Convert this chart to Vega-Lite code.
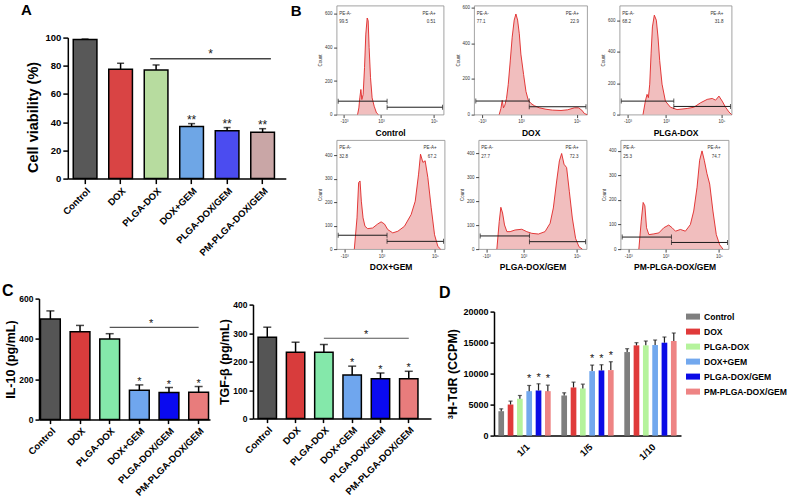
{
"$schema": "https://vega.github.io/schema/vega-lite/v6.json",
"background": "white",
"padding": {"left": 2, "top": 2.6, "right": 0, "bottom": 0},
"config": {
  "view": {"stroke": null},
  "font": "Liberation Sans",
  "axis": {"grid": false, "domainColor": "#000", "tickColor": "#000", "labelColor": "#000", "titleColor": "#000", "labelFont": "Liberation Sans", "titleFont": "Liberation Sans", "labelFontWeight": "bold", "titleFontWeight": "bold", "labelOverlap": false, "labelFlush": false, "labelBound": false},
  "title": {"font": "Liberation Sans", "fontWeight": "bold", "color": "#000"},
  "legend": {"labelFont": "Liberation Sans"},
  "text": {"font": "Liberation Sans"}
},
"datasets": {
  "A": [
    {"g": "Control", "v": 98.6, "e": 99, "s": ""},
    {"g": "DOX", "v": 77.5, "e": 81.8, "s": ""},
    {"g": "PLGA-DOX", "v": 77, "e": 80.6, "s": ""},
    {"g": "DOX+GEM", "v": 36.9, "e": 39, "s": "**"},
    {"g": "PLGA-DOX/GEM", "v": 34, "e": 36.2, "s": "**"},
    {"g": "PM-PLGA-DOX/GEM", "v": 32.8, "e": 35.4, "s": "**"}
  ],
  "C1": [
    {"g": "Control", "v": 499, "e": 539, "s": ""},
    {"g": "DOX", "v": 436, "e": 467, "s": ""},
    {"g": "PLGA-DOX", "v": 400, "e": 426, "s": ""},
    {"g": "DOX+GEM", "v": 146, "e": 172, "s": "*"},
    {"g": "PLGA-DOX/GEM", "v": 134, "e": 159, "s": "*"},
    {"g": "PM-PLGA-DOX/GEM", "v": 136, "e": 164, "s": "*"}
  ],
  "C2": [
    {"g": "Control", "v": 285.6, "e": 320.7, "s": ""},
    {"g": "DOX", "v": 233, "e": 268, "s": ""},
    {"g": "PLGA-DOX", "v": 233, "e": 260, "s": ""},
    {"g": "DOX+GEM", "v": 153, "e": 184, "s": "*"},
    {"g": "PLGA-DOX/GEM", "v": 140, "e": 160, "s": "*"},
    {"g": "PM-PLGA-DOX/GEM", "v": 140, "e": 166, "s": "*"}
  ],
  "D": [
    {"r": "1/1", "g": "Control", "v": 3935, "e": 4312, "s": ""},
    {"r": "1/1", "g": "DOX", "v": 5013, "e": 5552, "s": ""},
    {"r": "1/1", "g": "PLGA-DOX", "v": 5929, "e": 6468, "s": ""},
    {"r": "1/1", "g": "DOX+GEM", "v": 7169, "e": 8085, "s": "*"},
    {"r": "1/1", "g": "PLGA-DOX/GEM", "v": 7277, "e": 8355, "s": "*"},
    {"r": "1/1", "g": "PM-PLGA-DOX/GEM", "v": 7169, "e": 8139, "s": "*"},
    {"r": "1/5", "g": "Control", "v": 6468, "e": 6899, "s": ""},
    {"r": "1/5", "g": "DOX", "v": 7762, "e": 8624, "s": ""},
    {"r": "1/5", "g": "PLGA-DOX", "v": 7600, "e": 8301, "s": ""},
    {"r": "1/5", "g": "DOX+GEM", "v": 10403, "e": 11373, "s": "*"},
    {"r": "1/5", "g": "PLGA-DOX/GEM", "v": 10511, "e": 11427, "s": "*"},
    {"r": "1/5", "g": "PM-PLGA-DOX/GEM", "v": 10564, "e": 11912, "s": "*"},
    {"r": "1/10", "g": "Control", "v": 13475, "e": 14014, "s": ""},
    {"r": "1/10", "g": "DOX", "v": 14553, "e": 14984, "s": ""},
    {"r": "1/10", "g": "PLGA-DOX", "v": 14553, "e": 15254, "s": ""},
    {"r": "1/10", "g": "DOX+GEM", "v": 14607, "e": 15415, "s": ""},
    {"r": "1/10", "g": "PLGA-DOX/GEM", "v": 14984, "e": 15901, "s": ""},
    {"r": "1/10", "g": "PM-PLGA-DOX/GEM", "v": 15254, "e": 16547, "s": ""}
  ],
  "flow": [
    {"s": "Control", "u": 19.6, "c": 0}, {"s": "Control", "u": 20.8, "c": 40}, {"s": "Control", "u": 21.7, "c": 100}, {"s": "Control", "u": 22.7, "c": 150}, {"s": "Control", "u": 23.6, "c": 90}, {"s": "Control", "u": 24.8, "c": 120}, {"s": "Control", "u": 26.1, "c": 280}, {"s": "Control", "u": 27.3, "c": 480}, {"s": "Control", "u": 28.6, "c": 576}, {"s": "Control", "u": 29.5, "c": 560}, {"s": "Control", "u": 30.4, "c": 400}, {"s": "Control", "u": 31.7, "c": 220}, {"s": "Control", "u": 33.2, "c": 100}, {"s": "Control", "u": 35.1, "c": 50}, {"s": "Control", "u": 37.3, "c": 10}, {"s": "Control", "u": 39.1, "c": 0},
    {"s": "DOX", "u": 22.2, "c": 0}, {"s": "DOX", "u": 23.7, "c": 34}, {"s": "DOX", "u": 24.9, "c": 80}, {"s": "DOX", "u": 26, "c": 38}, {"s": "DOX", "u": 27.2, "c": 53}, {"s": "DOX", "u": 28.7, "c": 91}, {"s": "DOX", "u": 30.2, "c": 168}, {"s": "DOX", "u": 32, "c": 301}, {"s": "DOX", "u": 33.7, "c": 434}, {"s": "DOX", "u": 35.5, "c": 530}, {"s": "DOX", "u": 37, "c": 564}, {"s": "DOX", "u": 38.5, "c": 530}, {"s": "DOX", "u": 40, "c": 453}, {"s": "DOX", "u": 41.4, "c": 339}, {"s": "DOX", "u": 43.8, "c": 225}, {"s": "DOX", "u": 45.9, "c": 130}, {"s": "DOX", "u": 47.9, "c": 82}, {"s": "DOX", "u": 50.3, "c": 63}, {"s": "DOX", "u": 53.3, "c": 50}, {"s": "DOX", "u": 57.7, "c": 38}, {"s": "DOX", "u": 63.6, "c": 30}, {"s": "DOX", "u": 69.5, "c": 25}, {"s": "DOX", "u": 76.9, "c": 23}, {"s": "DOX", "u": 82.8, "c": 27}, {"s": "DOX", "u": 88.8, "c": 38}, {"s": "DOX", "u": 92.3, "c": 38}, {"s": "DOX", "u": 95.3, "c": 25}, {"s": "DOX", "u": 97.6, "c": 6}, {"s": "DOX", "u": 100, "c": 0},
    {"s": "PLGA-DOX", "u": 20.9, "c": 0}, {"s": "PLGA-DOX", "u": 23, "c": 86}, {"s": "PLGA-DOX", "u": 24.5, "c": 129}, {"s": "PLGA-DOX", "u": 25.7, "c": 108}, {"s": "PLGA-DOX", "u": 26.9, "c": 194}, {"s": "PLGA-DOX", "u": 28.1, "c": 387}, {"s": "PLGA-DOX", "u": 29.3, "c": 559}, {"s": "PLGA-DOX", "u": 31, "c": 634}, {"s": "PLGA-DOX", "u": 32.8, "c": 602}, {"s": "PLGA-DOX", "u": 34.3, "c": 495}, {"s": "PLGA-DOX", "u": 35.8, "c": 344}, {"s": "PLGA-DOX", "u": 37.9, "c": 194}, {"s": "PLGA-DOX", "u": 40.9, "c": 86}, {"s": "PLGA-DOX", "u": 45.4, "c": 47}, {"s": "PLGA-DOX", "u": 51.3, "c": 32}, {"s": "PLGA-DOX", "u": 60.3, "c": 39}, {"s": "PLGA-DOX", "u": 66.3, "c": 47}, {"s": "PLGA-DOX", "u": 72.2, "c": 75}, {"s": "PLGA-DOX", "u": 78.2, "c": 97}, {"s": "PLGA-DOX", "u": 82.7, "c": 103}, {"s": "PLGA-DOX", "u": 85.7, "c": 92}, {"s": "PLGA-DOX", "u": 88.7, "c": 118}, {"s": "PLGA-DOX", "u": 91.6, "c": 86}, {"s": "PLGA-DOX", "u": 94.6, "c": 47}, {"s": "PLGA-DOX", "u": 97.6, "c": 17}, {"s": "PLGA-DOX", "u": 100, "c": 0},
    {"s": "DOX+GEM", "u": 16.4, "c": 0}, {"s": "DOX+GEM", "u": 18.9, "c": 133}, {"s": "DOX+GEM", "u": 20.4, "c": 283}, {"s": "DOX+GEM", "u": 21.7, "c": 290}, {"s": "DOX+GEM", "u": 22.9, "c": 204}, {"s": "DOX+GEM", "u": 24.5, "c": 133}, {"s": "DOX+GEM", "u": 26.3, "c": 97}, {"s": "DOX+GEM", "u": 28.8, "c": 87}, {"s": "DOX+GEM", "u": 33.4, "c": 90}, {"s": "DOX+GEM", "u": 38.1, "c": 107}, {"s": "DOX+GEM", "u": 41.2, "c": 116}, {"s": "DOX+GEM", "u": 44.3, "c": 107}, {"s": "DOX+GEM", "u": 47.4, "c": 83}, {"s": "DOX+GEM", "u": 52, "c": 69}, {"s": "DOX+GEM", "u": 56.7, "c": 76}, {"s": "DOX+GEM", "u": 62.8, "c": 97}, {"s": "DOX+GEM", "u": 69, "c": 147}, {"s": "DOX+GEM", "u": 72.8, "c": 204}, {"s": "DOX+GEM", "u": 75.9, "c": 319}, {"s": "DOX+GEM", "u": 77.7, "c": 404}, {"s": "DOX+GEM", "u": 79.9, "c": 369}, {"s": "DOX+GEM", "u": 82, "c": 376}, {"s": "DOX+GEM", "u": 84.5, "c": 304}, {"s": "DOX+GEM", "u": 87.6, "c": 176}, {"s": "DOX+GEM", "u": 90.7, "c": 61}, {"s": "DOX+GEM", "u": 93.8, "c": 11}, {"s": "DOX+GEM", "u": 96.3, "c": 0},
    {"s": "PLGA-DOX/GEM", "u": 16.9, "c": 0}, {"s": "PLGA-DOX/GEM", "u": 19.1, "c": 115}, {"s": "PLGA-DOX/GEM", "u": 20.6, "c": 175}, {"s": "PLGA-DOX/GEM", "u": 22.2, "c": 151}, {"s": "PLGA-DOX/GEM", "u": 24, "c": 101}, {"s": "PLGA-DOX/GEM", "u": 26.2, "c": 73}, {"s": "PLGA-DOX/GEM", "u": 29.2, "c": 73}, {"s": "PLGA-DOX/GEM", "u": 33.8, "c": 80}, {"s": "PLGA-DOX/GEM", "u": 40, "c": 83}, {"s": "PLGA-DOX/GEM", "u": 44.6, "c": 73}, {"s": "PLGA-DOX/GEM", "u": 49.2, "c": 66}, {"s": "PLGA-DOX/GEM", "u": 55.4, "c": 63}, {"s": "PLGA-DOX/GEM", "u": 61.5, "c": 73}, {"s": "PLGA-DOX/GEM", "u": 66.2, "c": 108}, {"s": "PLGA-DOX/GEM", "u": 69.2, "c": 172}, {"s": "PLGA-DOX/GEM", "u": 72.3, "c": 285}, {"s": "PLGA-DOX/GEM", "u": 74.8, "c": 369}, {"s": "PLGA-DOX/GEM", "u": 76.9, "c": 400}, {"s": "PLGA-DOX/GEM", "u": 79.1, "c": 355}, {"s": "PLGA-DOX/GEM", "u": 81.5, "c": 341}, {"s": "PLGA-DOX/GEM", "u": 84, "c": 242}, {"s": "PLGA-DOX/GEM", "u": 86.8, "c": 130}, {"s": "PLGA-DOX/GEM", "u": 89.8, "c": 45}, {"s": "PLGA-DOX/GEM", "u": 92.9, "c": 10}, {"s": "PLGA-DOX/GEM", "u": 96, "c": 0},
    {"s": "PM-PLGA-DOX/GEM", "u": 16.9, "c": 0}, {"s": "PM-PLGA-DOX/GEM", "u": 19.1, "c": 114}, {"s": "PM-PLGA-DOX/GEM", "u": 20.9, "c": 190}, {"s": "PM-PLGA-DOX/GEM", "u": 22.5, "c": 176}, {"s": "PM-PLGA-DOX/GEM", "u": 24, "c": 87}, {"s": "PM-PLGA-DOX/GEM", "u": 26.2, "c": 59}, {"s": "PM-PLGA-DOX/GEM", "u": 30.8, "c": 62}, {"s": "PM-PLGA-DOX/GEM", "u": 35.4, "c": 66}, {"s": "PM-PLGA-DOX/GEM", "u": 40, "c": 87}, {"s": "PM-PLGA-DOX/GEM", "u": 44.6, "c": 98}, {"s": "PM-PLGA-DOX/GEM", "u": 47.7, "c": 87}, {"s": "PM-PLGA-DOX/GEM", "u": 50.8, "c": 73}, {"s": "PM-PLGA-DOX/GEM", "u": 55.4, "c": 80}, {"s": "PM-PLGA-DOX/GEM", "u": 60, "c": 73}, {"s": "PM-PLGA-DOX/GEM", "u": 64.6, "c": 100}, {"s": "PM-PLGA-DOX/GEM", "u": 67.7, "c": 155}, {"s": "PM-PLGA-DOX/GEM", "u": 70.8, "c": 252}, {"s": "PM-PLGA-DOX/GEM", "u": 73.2, "c": 362}, {"s": "PM-PLGA-DOX/GEM", "u": 75.4, "c": 400}, {"s": "PM-PLGA-DOX/GEM", "u": 77.5, "c": 362}, {"s": "PM-PLGA-DOX/GEM", "u": 80, "c": 307}, {"s": "PM-PLGA-DOX/GEM", "u": 82.5, "c": 265}, {"s": "PM-PLGA-DOX/GEM", "u": 85.5, "c": 155}, {"s": "PM-PLGA-DOX/GEM", "u": 88.6, "c": 59}, {"s": "PM-PLGA-DOX/GEM", "u": 91.7, "c": 18}, {"s": "PM-PLGA-DOX/GEM", "u": 94.8, "c": 0},
    {"s": "Control", "g": "neg", "x0": 1.5, "x1": 47.2, "lv": 80, "lab": "PE-A-\n99.5"},
    {"s": "Control", "g": "pos", "x0": 47.2, "x1": 99, "lv": 44, "lab": "PE-A+\n0.51"},
    {"s": "DOX", "g": "neg", "x0": 1.5, "x1": 48.8, "lv": 76, "lab": "PE-A-\n77.1"},
    {"s": "DOX", "g": "pos", "x0": 48.8, "x1": 99, "lv": 44, "lab": "PE-A+\n22.9"},
    {"s": "PLGA-DOX", "g": "neg", "x0": 1.5, "x1": 48.4, "lv": 86, "lab": "PE-A-\n68.2"},
    {"s": "PLGA-DOX", "g": "pos", "x0": 48.4, "x1": 99, "lv": 52, "lab": "PE-A+\n31.8"},
    {"s": "DOX+GEM", "g": "neg", "x0": 1.5, "x1": 46.7, "lv": 59, "lab": "PE-A-\n32.8"},
    {"s": "DOX+GEM", "g": "pos", "x0": 46.7, "x1": 99, "lv": 33, "lab": "PE-A+\n67.2"},
    {"s": "PLGA-DOX/GEM", "g": "neg", "x0": 1.5, "x1": 47.1, "lv": 55, "lab": "PE-A-\n27.7"},
    {"s": "PLGA-DOX/GEM", "g": "pos", "x0": 47.1, "x1": 99, "lv": 31, "lab": "PE-A+\n72.3"},
    {"s": "PM-PLGA-DOX/GEM", "g": "neg", "x0": 1.5, "x1": 47.1, "lv": 49, "lab": "PE-A-\n25.3"},
    {"s": "PM-PLGA-DOX/GEM", "g": "pos", "x0": 47.1, "x1": 99, "lv": 27, "lab": "PE-A+\n74.7"}
  ]
},
"resolve": {"scale": {"color": "independent"}},
"spacing": 11,
"vconcat": [
 {
  "spacing": 4.8,
  "resolve": {"scale": {"color": "independent"}},
  "hconcat": [
   {"spacing": 0, "vconcat": [
     {"width": 1, "height": 1, "data": {"values": []}, "mark": "point",
      "title": {"text": "A", "anchor": "start", "frame": "group", "fontSize": 15, "dx": -18, "offset": -12.5}},
     {"width": 1, "height": 197.6, "data": {"values": []}, "mark": "point",
      "title": {"text": "Cell viability (%)", "orient": "left", "anchor": "middle", "frame": "group", "fontSize": 14.5, "offset": -2}}
   ]},
   {"spacing": 0, "vconcat": [
    {"width": 1, "height": 26.5, "data": {"values": []}, "mark": "point"},
    {
    "width": 218, "height": 141,
    "data": {"name": "A"},
    "layer": [
     {"mark": {"type": "bar", "stroke": "black", "strokeWidth": 1.5},
      "encoding": {
       "x": {"field": "g", "type": "nominal", "sort": ["Control","DOX","PLGA-DOX","DOX+GEM","PLGA-DOX/GEM","PM-PLGA-DOX/GEM"], "scale": {"domain": ["Control","DOX","PLGA-DOX","DOX+GEM","PLGA-DOX/GEM","PM-PLGA-DOX/GEM"], "paddingInner": 0.333, "paddingOuter": 0.2366, "align": 0.324}, "axis": {"title": null, "labelAngle": -45, "labelFontSize": 9.5, "tickSize": 5, "tickWidth": 1.5, "domainWidth": 1.5, "labelPadding": 2}},
       "y": {"field": "v", "type": "quantitative", "title": null, "scale": {"domain": [0, 100]}, "axis": {"tickCount": 5, "labelOverlap": false, "labelFlush": false, "labelFontSize": 9.5, "tickSize": 5, "tickWidth": 1.5, "domainWidth": 1.5}},
       "color": {"field": "g", "type": "nominal", "scale": {"domain": ["Control","DOX","PLGA-DOX","DOX+GEM","PLGA-DOX/GEM","PM-PLGA-DOX/GEM"], "range": ["#585858","#d94444","#b7dc9f","#6ea6e6","#4b4cf0","#c9a6a6"]}, "legend": null}
      }},
     {"mark": {"type": "rule", "color": "black", "strokeWidth": 1.5},
      "encoding": {"x": {"field": "g", "type": "nominal", "sort": ["Control","DOX","PLGA-DOX","DOX+GEM","PLGA-DOX/GEM","PM-PLGA-DOX/GEM"]}, "y": {"field": "v", "type": "quantitative", "title": null}, "y2": {"field": "e"}}},
     {"mark": {"type": "tick", "color": "black", "thickness": 1.5, "size": 7},
      "encoding": {"x": {"field": "g", "type": "nominal", "sort": ["Control","DOX","PLGA-DOX","DOX+GEM","PLGA-DOX/GEM","PM-PLGA-DOX/GEM"]}, "y": {"field": "e", "type": "quantitative", "title": null}}},
     {"transform": [{"filter": "datum.s != ''"}], "mark": {"type": "text", "fontSize": 12, "baseline": "alphabetic", "dy": 0, "color": "#222"},
      "encoding": {"x": {"field": "g", "type": "nominal", "sort": ["Control","DOX","PLGA-DOX","DOX+GEM","PLGA-DOX/GEM","PM-PLGA-DOX/GEM"]}, "y": {"field": "e", "type": "quantitative", "title": null}, "text": {"field": "s"}}},
     {"data": {"values": [{"from": "PLGA-DOX", "to": "PM-PLGA-DOX/GEM", "y": 85, "s": "*"}]},
      "layer": [
       {"mark": {"type": "rule", "color": "#444", "strokeWidth": 1.5},
        "encoding": {"x": {"field": "from", "type": "nominal", "sort": ["Control","DOX","PLGA-DOX","DOX+GEM","PLGA-DOX/GEM","PM-PLGA-DOX/GEM"], "bandPosition": 0.25}, "x2": {"field": "to", "bandPosition": 0.85}, "y": {"field": "y", "type": "quantitative", "title": null}}},
       {"mark": {"type": "text", "fontSize": 12, "baseline": "alphabetic", "dy": -1, "color": "#222"},
        "encoding": {"x": {"field": "from", "type": "nominal", "sort": ["Control","DOX","PLGA-DOX","DOX+GEM","PLGA-DOX/GEM","PM-PLGA-DOX/GEM"], "bandPosition": 2.8}, "y": {"field": "y", "type": "quantitative", "title": null}, "text": {"field": "s"}}}
      ]}
    ]
   }]},
   {
    "title": {"text": "B", "orient": "left", "angle": 0, "anchor": "end", "baseline": "top", "fontSize": 15, "offset": 4.7},
    "spacing": 1.5,
    "vconcat": [
     {"spacing": 9.5, "hconcat": [
      {"width": 107, "height": 109, "view": {"stroke": "#8c8c8c", "strokeWidth": 0.8}, "data": {"name": "flow"}, "transform": [{"filter": "datum.s == 'Control'"}],
       "layer": [
        {"transform": [{"filter": "isValid(datum.u)"}], "mark": {"type": "area", "color": "#eba2a2", "line": {"color": "#e02626", "strokeWidth": 0.9}},
         "encoding": {"x": {"field": "u", "type": "quantitative", "scale": {"domain": [0, 100], "nice": false}, "axis": {"title": "Control", "values": [7, 23.5, 41.5, 68, 91], "labelExpr": "datum.value == 7 ? '-10³' : datum.value == 23.5 ? '0' : datum.value == 41.5 ? '10³' : datum.value == 68 ? '10⁴' : '10⁵'", "labelFontSize": 4.5, "labelFontWeight": "normal", "tickSize": 3, "labelPadding": 1, "domain": false, "titleFontSize": 8.5, "titlePadding": 5, "tickColor": "#444", "labelColor": "#333"}},
                      "y": {"field": "c", "type": "quantitative", "scale": {"domain": [0, 650], "nice": false}, "axis": {"title": "Count", "titleFontSize": 4.5, "titleFontWeight": "normal", "titlePadding": 2, "tickCount": 4, "labelFontSize": 4.5, "labelFontWeight": "normal", "tickSize": 3, "labelPadding": 1.5, "domain": false, "tickColor": "#444", "labelColor": "#333", "titleColor": "#333"}}}},
        {"transform": [{"filter": "isValid(datum.g)"}], "mark": {"type": "rule", "color": "#1a1a1a", "strokeWidth": 1}, "encoding": {"x": {"field": "x0", "type": "quantitative"}, "x2": {"field": "x1"}, "y": {"field": "lv", "type": "quantitative"}}},
        {"transform": [{"filter": "isValid(datum.g)"}], "mark": {"type": "tick", "orient": "vertical", "size": 5, "thickness": 1, "color": "#1a1a1a"}, "encoding": {"x": {"field": "x0", "type": "quantitative"}, "y": {"field": "lv", "type": "quantitative"}}},
        {"transform": [{"filter": "isValid(datum.g)"}], "mark": {"type": "tick", "orient": "vertical", "size": 5, "thickness": 1, "color": "#1a1a1a"}, "encoding": {"x": {"field": "x1", "type": "quantitative"}, "y": {"field": "lv", "type": "quantitative"}}},
        {"transform": [{"filter": "datum.g == 'neg'"}], "mark": {"type": "text", "align": "left", "baseline": "top", "fontSize": 4.5, "lineHeight": 8.5, "lineBreak": "\n", "dx": 1, "color": "#333"}, "encoding": {"x": {"field": "x0", "type": "quantitative"}, "y": {"value": 5}, "text": {"field": "lab"}}},
        {"transform": [{"filter": "datum.g == 'pos'"}], "mark": {"type": "text", "align": "right", "baseline": "top", "fontSize": 4.5, "lineHeight": 8.5, "lineBreak": "\n", "dx": -7, "color": "#333"}, "encoding": {"x": {"field": "x1", "type": "quantitative"}, "y": {"value": 5}, "text": {"field": "lab"}}}
       ]},
      {"width": 113, "height": 109, "view": {"stroke": "#8c8c8c", "strokeWidth": 0.8}, "data": {"name": "flow"}, "transform": [{"filter": "datum.s == 'DOX'"}],
       "layer": [
        {"transform": [{"filter": "isValid(datum.u)"}], "mark": {"type": "area", "color": "#eba2a2", "line": {"color": "#e02626", "strokeWidth": 0.9}},
         "encoding": {"x": {"field": "u", "type": "quantitative", "scale": {"domain": [0, 100], "nice": false}, "axis": {"title": "DOX", "values": [7, 23.5, 41.5, 68, 91], "labelExpr": "datum.value == 7 ? '-10³' : datum.value == 23.5 ? '0' : datum.value == 41.5 ? '10³' : datum.value == 68 ? '10⁴' : '10⁵'", "labelFontSize": 4.5, "labelFontWeight": "normal", "tickSize": 3, "labelPadding": 1, "domain": false, "titleFontSize": 8.5, "titlePadding": 5, "tickColor": "#444", "labelColor": "#333"}},
                      "y": {"field": "c", "type": "quantitative", "scale": {"domain": [0, 611], "nice": false}, "axis": {"title": "Count", "titleFontSize": 4.5, "titleFontWeight": "normal", "titlePadding": 2, "tickCount": 4, "labelFontSize": 4.5, "labelFontWeight": "normal", "tickSize": 3, "labelPadding": 1.5, "domain": false, "tickColor": "#444", "labelColor": "#333", "titleColor": "#333"}}}},
        {"transform": [{"filter": "isValid(datum.g)"}], "mark": {"type": "rule", "color": "#1a1a1a", "strokeWidth": 1}, "encoding": {"x": {"field": "x0", "type": "quantitative"}, "x2": {"field": "x1"}, "y": {"field": "lv", "type": "quantitative"}}},
        {"transform": [{"filter": "isValid(datum.g)"}], "mark": {"type": "tick", "orient": "vertical", "size": 5, "thickness": 1, "color": "#1a1a1a"}, "encoding": {"x": {"field": "x0", "type": "quantitative"}, "y": {"field": "lv", "type": "quantitative"}}},
        {"transform": [{"filter": "isValid(datum.g)"}], "mark": {"type": "tick", "orient": "vertical", "size": 5, "thickness": 1, "color": "#1a1a1a"}, "encoding": {"x": {"field": "x1", "type": "quantitative"}, "y": {"field": "lv", "type": "quantitative"}}},
        {"transform": [{"filter": "datum.g == 'neg'"}], "mark": {"type": "text", "align": "left", "baseline": "top", "fontSize": 4.5, "lineHeight": 8.5, "lineBreak": "\n", "dx": 1, "color": "#333"}, "encoding": {"x": {"field": "x0", "type": "quantitative"}, "y": {"value": 5}, "text": {"field": "lab"}}},
        {"transform": [{"filter": "datum.g == 'pos'"}], "mark": {"type": "text", "align": "right", "baseline": "top", "fontSize": 4.5, "lineHeight": 8.5, "lineBreak": "\n", "dx": -7, "color": "#333"}, "encoding": {"x": {"field": "x1", "type": "quantitative"}, "y": {"value": 5}, "text": {"field": "lab"}}}
       ]},
      {"width": 112, "height": 109, "view": {"stroke": "#8c8c8c", "strokeWidth": 0.8}, "data": {"name": "flow"}, "transform": [{"filter": "datum.s == 'PLGA-DOX'"}],
       "layer": [
        {"transform": [{"filter": "isValid(datum.u)"}], "mark": {"type": "area", "color": "#eba2a2", "line": {"color": "#e02626", "strokeWidth": 0.9}},
         "encoding": {"x": {"field": "u", "type": "quantitative", "scale": {"domain": [0, 100], "nice": false}, "axis": {"title": "PLGA-DOX", "values": [7, 23.5, 41.5, 68, 91], "labelExpr": "datum.value == 7 ? '-10³' : datum.value == 23.5 ? '0' : datum.value == 41.5 ? '10³' : datum.value == 68 ? '10⁴' : '10⁵'", "labelFontSize": 4.5, "labelFontWeight": "normal", "tickSize": 3, "labelPadding": 1, "domain": false, "titleFontSize": 8.5, "titlePadding": 5, "tickColor": "#444", "labelColor": "#333"}},
                      "y": {"field": "c", "type": "quantitative", "scale": {"domain": [0, 695], "nice": false}, "axis": {"title": "Count", "titleFontSize": 4.5, "titleFontWeight": "normal", "titlePadding": 2, "tickCount": 4, "labelFontSize": 4.5, "labelFontWeight": "normal", "tickSize": 3, "labelPadding": 1.5, "domain": false, "tickColor": "#444", "labelColor": "#333", "titleColor": "#333"}}}},
        {"transform": [{"filter": "isValid(datum.g)"}], "mark": {"type": "rule", "color": "#1a1a1a", "strokeWidth": 1}, "encoding": {"x": {"field": "x0", "type": "quantitative"}, "x2": {"field": "x1"}, "y": {"field": "lv", "type": "quantitative"}}},
        {"transform": [{"filter": "isValid(datum.g)"}], "mark": {"type": "tick", "orient": "vertical", "size": 5, "thickness": 1, "color": "#1a1a1a"}, "encoding": {"x": {"field": "x0", "type": "quantitative"}, "y": {"field": "lv", "type": "quantitative"}}},
        {"transform": [{"filter": "isValid(datum.g)"}], "mark": {"type": "tick", "orient": "vertical", "size": 5, "thickness": 1, "color": "#1a1a1a"}, "encoding": {"x": {"field": "x1", "type": "quantitative"}, "y": {"field": "lv", "type": "quantitative"}}},
        {"transform": [{"filter": "datum.g == 'neg'"}], "mark": {"type": "text", "align": "left", "baseline": "top", "fontSize": 4.5, "lineHeight": 8.5, "lineBreak": "\n", "dx": 1, "color": "#333"}, "encoding": {"x": {"field": "x0", "type": "quantitative"}, "y": {"value": 5}, "text": {"field": "lab"}}},
        {"transform": [{"filter": "datum.g == 'pos'"}], "mark": {"type": "text", "align": "right", "baseline": "top", "fontSize": 4.5, "lineHeight": 8.5, "lineBreak": "\n", "dx": -7, "color": "#333"}, "encoding": {"x": {"field": "x1", "type": "quantitative"}, "y": {"value": 5}, "text": {"field": "lab"}}}
       ]}
     ]},
     {"spacing": 13, "hconcat": [
      {"width": 108, "height": 109, "view": {"stroke": "#8c8c8c", "strokeWidth": 0.8}, "data": {"name": "flow"}, "transform": [{"filter": "datum.s == 'DOX+GEM'"}],
       "layer": [
        {"transform": [{"filter": "isValid(datum.u)"}], "mark": {"type": "area", "color": "#eba2a2", "line": {"color": "#e02626", "strokeWidth": 0.9}},
         "encoding": {"x": {"field": "u", "type": "quantitative", "scale": {"domain": [0, 100], "nice": false}, "axis": {"title": "DOX+GEM", "values": [7, 23.5, 41.5, 68, 91], "labelExpr": "datum.value == 7 ? '-10³' : datum.value == 23.5 ? '0' : datum.value == 41.5 ? '10³' : datum.value == 68 ? '10⁴' : '10⁵'", "labelFontSize": 4.5, "labelFontWeight": "normal", "tickSize": 3, "labelPadding": 1, "domain": false, "titleFontSize": 8.5, "titlePadding": 5, "tickColor": "#444", "labelColor": "#333"}},
                      "y": {"field": "c", "type": "quantitative", "scale": {"domain": [0, 464], "nice": false}, "axis": {"title": "Count", "titleFontSize": 4.5, "titleFontWeight": "normal", "titlePadding": 2, "tickCount": 4, "labelFontSize": 4.5, "labelFontWeight": "normal", "tickSize": 3, "labelPadding": 1.5, "domain": false, "tickColor": "#444", "labelColor": "#333", "titleColor": "#333"}}}},
        {"transform": [{"filter": "isValid(datum.g)"}], "mark": {"type": "rule", "color": "#1a1a1a", "strokeWidth": 1}, "encoding": {"x": {"field": "x0", "type": "quantitative"}, "x2": {"field": "x1"}, "y": {"field": "lv", "type": "quantitative"}}},
        {"transform": [{"filter": "isValid(datum.g)"}], "mark": {"type": "tick", "orient": "vertical", "size": 5, "thickness": 1, "color": "#1a1a1a"}, "encoding": {"x": {"field": "x0", "type": "quantitative"}, "y": {"field": "lv", "type": "quantitative"}}},
        {"transform": [{"filter": "isValid(datum.g)"}], "mark": {"type": "tick", "orient": "vertical", "size": 5, "thickness": 1, "color": "#1a1a1a"}, "encoding": {"x": {"field": "x1", "type": "quantitative"}, "y": {"field": "lv", "type": "quantitative"}}},
        {"transform": [{"filter": "datum.g == 'neg'"}], "mark": {"type": "text", "align": "left", "baseline": "top", "fontSize": 4.5, "lineHeight": 8.5, "lineBreak": "\n", "dx": 1, "color": "#333"}, "encoding": {"x": {"field": "x0", "type": "quantitative"}, "y": {"value": 5}, "text": {"field": "lab"}}},
        {"transform": [{"filter": "datum.g == 'pos'"}], "mark": {"type": "text", "align": "right", "baseline": "top", "fontSize": 4.5, "lineHeight": 8.5, "lineBreak": "\n", "dx": -7, "color": "#333"}, "encoding": {"x": {"field": "x1", "type": "quantitative"}, "y": {"value": 5}, "text": {"field": "lab"}}}
       ]},
      {"width": 108, "height": 109, "view": {"stroke": "#8c8c8c", "strokeWidth": 0.8}, "data": {"name": "flow"}, "transform": [{"filter": "datum.s == 'PLGA-DOX/GEM'"}],
       "layer": [
        {"transform": [{"filter": "isValid(datum.u)"}], "mark": {"type": "area", "color": "#eba2a2", "line": {"color": "#e02626", "strokeWidth": 0.9}},
         "encoding": {"x": {"field": "u", "type": "quantitative", "scale": {"domain": [0, 100], "nice": false}, "axis": {"title": "PLGA-DOX/GEM", "values": [7, 23.5, 41.5, 68, 91], "labelExpr": "datum.value == 7 ? '-10³' : datum.value == 23.5 ? '0' : datum.value == 41.5 ? '10³' : datum.value == 68 ? '10⁴' : '10⁵'", "labelFontSize": 4.5, "labelFontWeight": "normal", "tickSize": 3, "labelPadding": 1, "domain": false, "titleFontSize": 8.5, "titlePadding": 5, "tickColor": "#444", "labelColor": "#333"}},
                      "y": {"field": "c", "type": "quantitative", "scale": {"domain": [0, 456], "nice": false}, "axis": {"title": "Count", "titleFontSize": 4.5, "titleFontWeight": "normal", "titlePadding": 2, "tickCount": 4, "labelFontSize": 4.5, "labelFontWeight": "normal", "tickSize": 3, "labelPadding": 1.5, "domain": false, "tickColor": "#444", "labelColor": "#333", "titleColor": "#333"}}}},
        {"transform": [{"filter": "isValid(datum.g)"}], "mark": {"type": "rule", "color": "#1a1a1a", "strokeWidth": 1}, "encoding": {"x": {"field": "x0", "type": "quantitative"}, "x2": {"field": "x1"}, "y": {"field": "lv", "type": "quantitative"}}},
        {"transform": [{"filter": "isValid(datum.g)"}], "mark": {"type": "tick", "orient": "vertical", "size": 5, "thickness": 1, "color": "#1a1a1a"}, "encoding": {"x": {"field": "x0", "type": "quantitative"}, "y": {"field": "lv", "type": "quantitative"}}},
        {"transform": [{"filter": "isValid(datum.g)"}], "mark": {"type": "tick", "orient": "vertical", "size": 5, "thickness": 1, "color": "#1a1a1a"}, "encoding": {"x": {"field": "x1", "type": "quantitative"}, "y": {"field": "lv", "type": "quantitative"}}},
        {"transform": [{"filter": "datum.g == 'neg'"}], "mark": {"type": "text", "align": "left", "baseline": "top", "fontSize": 4.5, "lineHeight": 8.5, "lineBreak": "\n", "dx": 1, "color": "#333"}, "encoding": {"x": {"field": "x0", "type": "quantitative"}, "y": {"value": 5}, "text": {"field": "lab"}}},
        {"transform": [{"filter": "datum.g == 'pos'"}], "mark": {"type": "text", "align": "right", "baseline": "top", "fontSize": 4.5, "lineHeight": 8.5, "lineBreak": "\n", "dx": -7, "color": "#333"}, "encoding": {"x": {"field": "x1", "type": "quantitative"}, "y": {"value": 5}, "text": {"field": "lab"}}}
       ]},
      {"width": 108, "height": 109, "view": {"stroke": "#8c8c8c", "strokeWidth": 0.8}, "data": {"name": "flow"}, "transform": [{"filter": "datum.s == 'PM-PLGA-DOX/GEM'"}],
       "layer": [
        {"transform": [{"filter": "isValid(datum.u)"}], "mark": {"type": "area", "color": "#eba2a2", "line": {"color": "#e02626", "strokeWidth": 0.9}},
         "encoding": {"x": {"field": "u", "type": "quantitative", "scale": {"domain": [0, 100], "nice": false}, "axis": {"title": "PM-PLGA-DOX/GEM", "values": [7, 23.5, 41.5, 68, 91], "labelExpr": "datum.value == 7 ? '-10³' : datum.value == 23.5 ? '0' : datum.value == 41.5 ? '10³' : datum.value == 68 ? '10⁴' : '10⁵'", "labelFontSize": 4.5, "labelFontWeight": "normal", "tickSize": 3, "labelPadding": 1, "domain": false, "titleFontSize": 8.5, "titlePadding": 5, "tickColor": "#444", "labelColor": "#333"}},
                      "y": {"field": "c", "type": "quantitative", "scale": {"domain": [0, 444], "nice": false}, "axis": {"title": "Count", "titleFontSize": 4.5, "titleFontWeight": "normal", "titlePadding": 2, "tickCount": 4, "labelFontSize": 4.5, "labelFontWeight": "normal", "tickSize": 3, "labelPadding": 1.5, "domain": false, "tickColor": "#444", "labelColor": "#333", "titleColor": "#333"}}}},
        {"transform": [{"filter": "isValid(datum.g)"}], "mark": {"type": "rule", "color": "#1a1a1a", "strokeWidth": 1}, "encoding": {"x": {"field": "x0", "type": "quantitative"}, "x2": {"field": "x1"}, "y": {"field": "lv", "type": "quantitative"}}},
        {"transform": [{"filter": "isValid(datum.g)"}], "mark": {"type": "tick", "orient": "vertical", "size": 5, "thickness": 1, "color": "#1a1a1a"}, "encoding": {"x": {"field": "x0", "type": "quantitative"}, "y": {"field": "lv", "type": "quantitative"}}},
        {"transform": [{"filter": "isValid(datum.g)"}], "mark": {"type": "tick", "orient": "vertical", "size": 5, "thickness": 1, "color": "#1a1a1a"}, "encoding": {"x": {"field": "x1", "type": "quantitative"}, "y": {"field": "lv", "type": "quantitative"}}},
        {"transform": [{"filter": "datum.g == 'neg'"}], "mark": {"type": "text", "align": "left", "baseline": "top", "fontSize": 4.5, "lineHeight": 8.5, "lineBreak": "\n", "dx": 1, "color": "#333"}, "encoding": {"x": {"field": "x0", "type": "quantitative"}, "y": {"value": 5}, "text": {"field": "lab"}}},
        {"transform": [{"filter": "datum.g == 'pos'"}], "mark": {"type": "text", "align": "right", "baseline": "top", "fontSize": 4.5, "lineHeight": 8.5, "lineBreak": "\n", "dx": -7, "color": "#333"}, "encoding": {"x": {"field": "x1", "type": "quantitative"}, "y": {"value": 5}, "text": {"field": "lab"}}}
       ]}
     ]}
    ]
   }
  ]
 },
 {
  "spacing": 8,
  "resolve": {"scale": {"color": "independent"}},
  "hconcat": [
   {
    "width": 171, "height": 121,
    "title": {"text": "C", "anchor": "start", "frame": "group", "fontSize": 16, "dx": -37, "offset": -4.25},
    "data": {"name": "C1"},
    "layer": [
     {"mark": {"type": "bar", "stroke": "black", "strokeWidth": 1.5},
      "encoding": {
       "x": {"field": "g", "type": "nominal", "sort": ["Control","DOX","PLGA-DOX","DOX+GEM","PLGA-DOX/GEM","PM-PLGA-DOX/GEM"], "scale": {"domain": ["Control","DOX","PLGA-DOX","DOX+GEM","PLGA-DOX/GEM","PM-PLGA-DOX/GEM"], "paddingInner": 0.333, "paddingOuter": 0.05}, "axis": {"title": null, "labelAngle": -45, "labelFontSize": 9.5, "tickSize": 4, "tickWidth": 1.5, "domainWidth": 1.5, "labelPadding": 2}},
       "y": {"field": "v", "type": "quantitative", "title": "IL-10 (pg/mL)", "scale": {"domain": [0, 600]}, "axis": {"values": [0,200,400,600], "labelOverlap": false, "labelFlush": false, "titleFontSize": 12.5, "labelFontSize": 8.5, "tickSize": 4, "tickWidth": 1.5, "domainWidth": 1.5, "titlePadding": 1}},
       "color": {"field": "g", "type": "nominal", "scale": {"domain": ["Control","DOX","PLGA-DOX","DOX+GEM","PLGA-DOX/GEM","PM-PLGA-DOX/GEM"], "range": ["#555555","#d83c3c","#84e8aa","#6fa6ee","#0a0af0","#e87c7c"]}, "legend": null}
      }},
     {"mark": {"type": "rule", "color": "black", "strokeWidth": 1.5},
      "encoding": {"x": {"field": "g", "type": "nominal", "sort": ["Control","DOX","PLGA-DOX","DOX+GEM","PLGA-DOX/GEM","PM-PLGA-DOX/GEM"]}, "y": {"field": "v", "type": "quantitative", "title": "IL-10 (pg/mL)"}, "y2": {"field": "e"}}},
     {"mark": {"type": "tick", "color": "black", "thickness": 1.5, "size": 8},
      "encoding": {"x": {"field": "g", "type": "nominal", "sort": ["Control","DOX","PLGA-DOX","DOX+GEM","PLGA-DOX/GEM","PM-PLGA-DOX/GEM"]}, "y": {"field": "e", "type": "quantitative", "title": "IL-10 (pg/mL)"}}},
     {"transform": [{"filter": "datum.s != ''"}], "mark": {"type": "text", "fontSize": 11, "baseline": "alphabetic", "dy": 0, "color": "#222"},
      "encoding": {"x": {"field": "g", "type": "nominal", "sort": ["Control","DOX","PLGA-DOX","DOX+GEM","PLGA-DOX/GEM","PM-PLGA-DOX/GEM"]}, "y": {"field": "e", "type": "quantitative", "title": "IL-10 (pg/mL)"}, "text": {"field": "s"}}},
     {"data": {"values": [{"from": "PLGA-DOX", "to": "PM-PLGA-DOX/GEM", "y": 457, "s": "*"}]},
      "layer": [
       {"mark": {"type": "rule", "color": "#555", "strokeWidth": 1.2},
        "encoding": {"x": {"field": "from", "type": "nominal", "sort": ["Control","DOX","PLGA-DOX","DOX+GEM","PLGA-DOX/GEM","PM-PLGA-DOX/GEM"]}, "x2": {"field": "to"}, "y": {"field": "y", "type": "quantitative", "title": "IL-10 (pg/mL)"}}},
       {"mark": {"type": "text", "fontSize": 11, "baseline": "alphabetic", "dy": 0, "color": "#222"},
        "encoding": {"x": {"field": "from", "type": "nominal", "sort": ["Control","DOX","PLGA-DOX","DOX+GEM","PLGA-DOX/GEM","PM-PLGA-DOX/GEM"], "bandPosition": 2.6}, "y": {"field": "y", "type": "quantitative", "title": "IL-10 (pg/mL)"}, "text": {"field": "s"}}}
      ]}
    ]
   },
   {"spacing": 0, "vconcat": [
    {"width": 1, "height": 2, "data": {"values": []}, "mark": "point"},
    {
    "width": 178, "height": 114,
    "data": {"name": "C2"},
    "layer": [
     {"mark": {"type": "bar", "stroke": "black", "strokeWidth": 1.5},
      "encoding": {
       "x": {"field": "g", "type": "nominal", "sort": ["Control","DOX","PLGA-DOX","DOX+GEM","PLGA-DOX/GEM","PM-PLGA-DOX/GEM"], "scale": {"domain": ["Control","DOX","PLGA-DOX","DOX+GEM","PLGA-DOX/GEM","PM-PLGA-DOX/GEM"], "paddingInner": 0.35, "paddingOuter": 0.32, "align": 0.28}, "axis": {"title": null, "labelAngle": -45, "labelFontSize": 9.5, "tickSize": 4, "tickWidth": 1.5, "domainWidth": 1.5, "labelPadding": 2}},
       "y": {"field": "v", "type": "quantitative", "title": "TGF-β (pg/mL)", "scale": {"domain": [0, 400]}, "axis": {"tickCount": 4, "labelOverlap": false, "labelFlush": false, "titleFontSize": 12.5, "labelFontSize": 8.5, "tickSize": 4, "tickWidth": 1.5, "domainWidth": 1.5, "titlePadding": 1}},
       "color": {"field": "g", "type": "nominal", "scale": {"domain": ["Control","DOX","PLGA-DOX","DOX+GEM","PLGA-DOX/GEM","PM-PLGA-DOX/GEM"], "range": ["#555555","#d83c3c","#84e8aa","#6fa6ee","#0a0af0","#e87c7c"]}, "legend": null}
      }},
     {"mark": {"type": "rule", "color": "black", "strokeWidth": 1.5},
      "encoding": {"x": {"field": "g", "type": "nominal", "sort": ["Control","DOX","PLGA-DOX","DOX+GEM","PLGA-DOX/GEM","PM-PLGA-DOX/GEM"]}, "y": {"field": "v", "type": "quantitative", "title": "TGF-β (pg/mL)"}, "y2": {"field": "e"}}},
     {"mark": {"type": "tick", "color": "black", "thickness": 1.5, "size": 8},
      "encoding": {"x": {"field": "g", "type": "nominal", "sort": ["Control","DOX","PLGA-DOX","DOX+GEM","PLGA-DOX/GEM","PM-PLGA-DOX/GEM"]}, "y": {"field": "e", "type": "quantitative", "title": "TGF-β (pg/mL)"}}},
     {"transform": [{"filter": "datum.s != ''"}], "mark": {"type": "text", "fontSize": 11, "baseline": "alphabetic", "dy": 0, "color": "#222"},
      "encoding": {"x": {"field": "g", "type": "nominal", "sort": ["Control","DOX","PLGA-DOX","DOX+GEM","PLGA-DOX/GEM","PM-PLGA-DOX/GEM"]}, "y": {"field": "e", "type": "quantitative", "title": "TGF-β (pg/mL)"}, "text": {"field": "s"}}},
     {"data": {"values": [{"from": "PLGA-DOX", "to": "PM-PLGA-DOX/GEM", "y": 282, "s": "*"}]},
      "layer": [
       {"mark": {"type": "rule", "color": "#555", "strokeWidth": 1.2},
        "encoding": {"x": {"field": "from", "type": "nominal", "sort": ["Control","DOX","PLGA-DOX","DOX+GEM","PLGA-DOX/GEM","PM-PLGA-DOX/GEM"]}, "x2": {"field": "to"}, "y": {"field": "y", "type": "quantitative", "title": "TGF-β (pg/mL)"}}},
       {"mark": {"type": "text", "fontSize": 11, "baseline": "alphabetic", "dy": 0, "color": "#222"},
        "encoding": {"x": {"field": "from", "type": "nominal", "sort": ["Control","DOX","PLGA-DOX","DOX+GEM","PLGA-DOX/GEM","PM-PLGA-DOX/GEM"], "bandPosition": 2.8}, "y": {"field": "y", "type": "quantitative", "title": "TGF-β (pg/mL)"}, "text": {"field": "s"}}}
      ]}
    ]
   }]},
   {"spacing": 0,
    "resolve": {"scale": {"color": "independent"}, "legend": {"color": "independent"}},
    "vconcat": [
    {"width": 1, "height": 8.8, "data": {"values": []}, "mark": "point",
     "title": {"text": "D", "anchor": "start", "frame": "group", "fontSize": 16, "dx": -55, "offset": -2}},
    {
    "width": 187, "height": 124,
    "data": {"name": "D"},
    "encoding": {
     "x": {"field": "r", "type": "nominal", "sort": ["1/1","1/5","1/10"], "scale": {"domain": ["1/1","1/5","1/10"], "paddingInner": 0.11, "paddingOuter": 0.04}, "axis": {"title": null, "labelAngle": -45, "labelFontSize": 9.5, "ticks": false, "labelPadding": 6, "domainWidth": 1.5}},
     "xOffset": {"field": "g", "type": "nominal", "sort": ["Control","DOX","PLGA-DOX","DOX+GEM","PLGA-DOX/GEM","PM-PLGA-DOX/GEM"], "scale": {"domain": ["Control","DOX","PLGA-DOX","DOX+GEM","PLGA-DOX/GEM","PM-PLGA-DOX/GEM"], "paddingInner": 0.39, "paddingOuter": 0.2}}
    },
    "layer": [
     {"mark": {"type": "bar"},
      "encoding": {
       "y": {"field": "v", "type": "quantitative", "title": "³H-TdR (CCPM)", "scale": {"domain": [0, 20000]}, "axis": {"tickCount": 4, "labelOverlap": false, "labelFlush": false, "format": "d", "titleFontSize": 12.5, "labelFontSize": 9, "tickSize": 4, "tickWidth": 1.5, "domainWidth": 1.5, "titlePadding": 3}},
       "color": {"field": "g", "type": "nominal", "sort": ["Control","DOX","PLGA-DOX","DOX+GEM","PLGA-DOX/GEM","PM-PLGA-DOX/GEM"], "scale": {"domain": ["Control","DOX","PLGA-DOX","DOX+GEM","PLGA-DOX/GEM","PM-PLGA-DOX/GEM"], "range": ["#7f7f7f","#e03a3a","#b5f39c","#72a8ee","#0b0be6","#ee8484"]},
        "legend": {"title": null, "orient": "right", "offset": 7, "padding": 0, "labelFontSize": 8.6, "labelFontWeight": "bold", "labelColor": "#000", "symbolType": "M-1.4,-0.6H1.4V0.6H-1.4Z", "symbolSize": 100, "symbolStrokeWidth": 0, "rowPadding": 5, "labelOffset": 6}}
      }},
     {"mark": {"type": "rule", "color": "#222", "strokeWidth": 1.2},
      "encoding": {"y": {"field": "v", "type": "quantitative", "title": "³H-TdR (CCPM)"}, "y2": {"field": "e"}}},
     {"mark": {"type": "tick", "color": "#222", "thickness": 1.2, "size": 4},
      "encoding": {"y": {"field": "e", "type": "quantitative", "title": "³H-TdR (CCPM)"}}},
     {"transform": [{"filter": "datum.s != ''"}], "mark": {"type": "text", "fontSize": 11, "baseline": "alphabetic", "dy": -3, "color": "#222"},
      "encoding": {"y": {"field": "e", "type": "quantitative", "title": "³H-TdR (CCPM)"}, "text": {"field": "s"}}}
    ]
   }]}
  ]
 }
]
}
